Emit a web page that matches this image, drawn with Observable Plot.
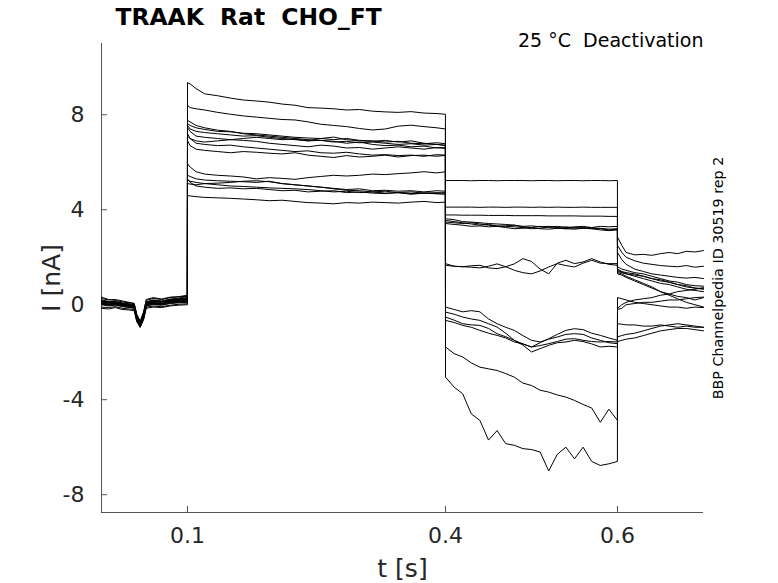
<!DOCTYPE html>
<html>
<head>
<meta charset="utf-8">
<script src="https://cdn.jsdelivr.net/npm/d3@7"></script>
<script src="https://cdn.jsdelivr.net/npm/@observablehq/plot@0.6"></script>
<style>
  html, body { margin: 0; padding: 0; background: #fff; }
  #chart { width: 778px; height: 583px; }
</style>
</head>
<body>
<div id="chart"></div>
<script>
// ---- time bases (s) for the four protocol phases ----
const tBase  = [0, 0.008, 0.016, 0.024, 0.032, 0.038, 0.041, 0.045, 0.049, 0.052, 0.06, 0.07, 0.08, 0.09, 0.0999];
const tPulse = [0.1, 0.103, 0.11, 0.12, 0.135, 0.15, 0.165, 0.18, 0.195, 0.21, 0.225, 0.24, 0.255, 0.27, 0.285, 0.3, 0.315, 0.33, 0.345, 0.36, 0.375, 0.39, 0.3999];
const tTest  = [0.4, 0.41, 0.42, 0.43, 0.44, 0.45, 0.46, 0.47, 0.48, 0.49, 0.5, 0.51, 0.52, 0.53, 0.54, 0.55, 0.56, 0.57, 0.58, 0.59, 0.5999];
const tTail  = [0.6, 0.605, 0.61, 0.62, 0.63, 0.64, 0.65, 0.66, 0.67, 0.68, 0.69, 0.7];

// ---- current (nA) per sweep, phase by phase ----
const baseline = [
  [0.10, 0.05, 0.08, 0.02, -0.05, -0.08, -0.55, -0.85, -0.45, 0.05, 0.10, 0.06, 0.15, 0.18, 0.22],
  [0.20, 0.14, 0.10, 0.06, 0.02, -0.02, -0.45, -0.75, -0.35, 0.12, 0.20, 0.16, 0.24, 0.28, 0.35],
  [0.00, -0.05, -0.02, -0.08, -0.12, -0.15, -0.65, -0.95, -0.55, -0.05, 0.00, -0.02, 0.05, 0.08, 0.10],
  [0.15, 0.10, 0.12, 0.05, 0.00, -0.05, -0.50, -0.80, -0.40, 0.08, 0.15, 0.12, 0.18, 0.22, 0.28],
  [0.05, 0.00, 0.03, -0.03, -0.08, -0.10, -0.60, -0.90, -0.50, 0.00, 0.05, 0.02, 0.10, 0.12, 0.15],
  [0.32, 0.22, 0.18, 0.12, 0.08, 0.04, -0.40, -0.70, -0.30, 0.22, 0.30, 0.24, 0.32, 0.34, 0.40],
  [-0.15, -0.18, -0.12, -0.20, -0.22, -0.25, -0.72, -0.94, -0.62, -0.15, -0.10, -0.12, -0.05, -0.02, 0.00],
  [0.12, 0.08, 0.05, 0.02, -0.02, -0.06, -0.52, -0.82, -0.42, 0.06, 0.12, 0.10, 0.16, 0.20, 0.24],
  [0.08, 0.02, 0.06, 0.00, -0.04, -0.09, -0.58, -0.88, -0.48, 0.02, 0.08, 0.04, 0.12, 0.15, 0.18],
  [0.18, 0.12, 0.14, 0.08, 0.04, 0.00, -0.48, -0.78, -0.38, 0.10, 0.18, 0.14, 0.22, 0.25, 0.30],
  [0.02, -0.02, 0.00, -0.05, -0.10, -0.12, -0.62, -0.90, -0.52, -0.02, 0.02, 0.00, 0.07, 0.10, 0.12],
  [0.26, 0.20, 0.22, 0.16, 0.10, 0.06, -0.42, -0.72, -0.32, 0.18, 0.26, 0.22, 0.30, 0.33, 0.36],
  [-0.10, -0.12, -0.08, -0.15, -0.18, -0.20, -0.68, -0.95, -0.60, -0.10, -0.06, -0.08, -0.02, 0.02, 0.04],
  [0.14, 0.10, 0.07, 0.04, 0.00, -0.04, -0.50, -0.80, -0.40, 0.07, 0.14, 0.12, 0.20, 0.22, 0.26],
  [0.06, 0.00, 0.04, -0.02, -0.06, -0.10, -0.56, -0.86, -0.46, 0.03, 0.06, 0.04, 0.12, 0.14, 0.20]
];
const pulse = [
  [9.35, 9.3, 9.1, 8.88, 8.8, 8.7, 8.62, 8.58, 8.53, 8.45, 8.4, 8.3, 8.28, 8.25, 8.2, 8.22, 8.15, 8.12, 8.1, 8.13, 8.07, 8.05, 8.02],
  [8.4, 8.3, 8.25, 8.2, 8.1, 8.02, 7.95, 7.9, 7.85, 7.8, 7.78, 7.7, 7.6, 7.55, 7.5, 7.42, 7.36, 7.4, 7.52, 7.56, 7.5, 7.45, 7.4],
  [7.76, 7.7, 7.55, 7.45, 7.35, 7.3, 7.2, 7.15, 7.1, 7.05, 7.0, 6.95, 6.92, 6.88, 6.8, 6.85, 6.75, 6.7, 6.72, 6.65, 6.68, 6.6, 6.62],
  [7.62, 7.55, 7.45, 7.38, 7.3, 7.28, 7.22, 7.2, 7.15, 7.1, 7.05, 7.02, 7.0, 6.95, 7.0, 6.92, 6.9, 6.85, 6.88, 6.8, 6.78, 6.82, 6.78],
  [7.45, 7.3, 7.1, 7.05, 7.0, 6.95, 7.0, 7.05, 7.0, 6.95, 6.98, 6.9, 7.0, 7.06, 6.95, 6.9, 6.88, 6.92, 6.85, 6.9, 6.8, 6.75, 6.72],
  [7.2, 7.0, 6.9, 6.85, 6.9, 6.95, 6.92, 6.88, 6.8, 6.75, 6.7, 6.65, 6.72, 6.68, 6.6, 6.62, 6.55, 6.6, 6.65, 6.6, 6.55, 6.62, 6.58],
  [6.92, 6.7, 6.55, 6.5, 6.45, 6.4, 6.45, 6.42, 6.38, 6.35, 6.4, 6.3, 6.25, 6.2, 6.28, 6.22, 6.25, 6.3, 6.22, 6.28, 6.3, 6.25, 6.29],
  [7.1, 7.0, 6.8, 6.75, 6.7, 6.72, 6.65, 6.6, 6.55, 6.5, 6.45, 6.48, 6.4, 6.38, 6.42, 6.35, 6.3, 6.32, 6.28, 6.3, 6.25, 6.32, 6.3],
  [5.93, 5.8, 5.6, 5.5, 5.45, 5.42, 5.38, 5.3, 5.35, 5.32, 5.28, 5.35, 5.4, 5.45, 5.42, 5.45, 5.5, 5.48, 5.52, 5.55, 5.6, 5.55, 5.6],
  [5.45, 5.4, 5.3, 5.25, 5.22, 5.2, 5.18, 5.15, 5.2, 5.1, 5.05, 5.0, 4.95, 4.9, 4.85, 4.88, 4.8, 4.82, 4.78, 4.8, 4.75, 4.8, 4.78],
  [5.25, 5.2, 5.15, 5.1, 5.05, 5.0, 4.98, 4.95, 4.92, 4.9, 4.88, 4.85, 4.8, 4.75, 4.78, 4.72, 4.75, 4.7, 4.72, 4.68, 4.7, 4.72, 4.7],
  [5.1, 5.08, 5.05, 5.1, 5.12, 5.15, 5.2, 5.22, 5.18, 5.1, 5.05, 5.0, 4.95, 4.88, 4.82, 4.8, 4.75, 4.78, 4.72, 4.75, 4.7, 4.68, 4.72],
  [4.6, 4.58, 4.55, 4.52, 4.5, 4.48, 4.45, 4.42, 4.38, 4.4, 4.35, 4.3, 4.28, 4.25, 4.3, 4.28, 4.32, 4.3, 4.28, 4.32, 4.35, 4.3, 4.32],
  [7.55, 7.4, 7.3, 7.25, 7.2, 7.15, 7.1, 7.12, 7.05, 7.0, 6.95, 6.9, 6.92, 6.85, 6.88, 6.82, 6.85, 6.8, 6.75, 6.78, 6.72, 6.75, 6.7],
  [5.3, 5.15, 5.0, 4.95, 4.9, 4.92, 4.88, 4.9, 4.85, 4.8, 4.82, 4.75, 4.78, 4.8, 4.72, 4.75, 4.7, 4.68, 4.72, 4.65, 4.7, 4.67, 4.65]
];
const test = [
  [5.23, 5.23, 5.23, 5.22, 5.23, 5.23, 5.22, 5.23, 5.23, 5.23, 5.22, 5.23, 5.23, 5.22, 5.23, 5.23, 5.22, 5.23, 5.23, 5.22, 5.23],
  [4.11, 4.11, 4.11, 4.11, 4.1, 4.11, 4.11, 4.1, 4.11, 4.11, 4.1, 4.11, 4.1, 4.11, 4.1, 4.1, 4.11, 4.1, 4.1, 4.1, 4.1],
  [3.78, 3.78, 3.77, 3.77, 3.77, 3.76, 3.76, 3.76, 3.75, 3.75, 3.75, 3.75, 3.74, 3.74, 3.74, 3.74, 3.73, 3.73, 3.73, 3.72, 3.72],
  [3.62, 3.58, 3.5, 3.48, 3.45, 3.42, 3.4, 3.38, 3.35, 3.3, 3.32, 3.28, 3.3, 3.25, 3.28, 3.22, 3.25, 3.2, 3.22, 3.18, 3.2],
  [3.55, 3.5, 3.45, 3.4, 3.35, 3.38, 3.32, 3.3, 3.28, 3.25, 3.2, 3.22, 3.28, 3.3, 3.25, 3.28, 3.3, 3.25, 3.3, 3.28, 3.3],
  [3.48, 3.45, 3.42, 3.45, 3.4, 3.35, 3.3, 3.32, 3.35, 3.28, 3.25, 3.3, 3.25, 3.22, 3.2, 3.25, 3.22, 3.25, 3.2, 3.15, 3.18],
  [3.42, 3.38, 3.35, 3.3, 3.32, 3.28, 3.3, 3.25, 3.2, 3.22, 3.25, 3.2, 3.18, 3.22, 3.2, 3.18, 3.22, 3.2, 3.15, 3.12, 3.15],
  [1.73, 1.62, 1.6, 1.64, 1.66, 1.55, 1.52, 1.6, 1.72, 1.94, 1.82, 1.5, 1.3, 1.75, 1.87, 1.73, 1.8, 1.94, 1.8, 1.7, 1.66],
  [1.66, 1.62, 1.6, 1.58, 1.55, 1.62, 1.72, 1.6, 1.45, 1.35, 1.3, 1.42, 1.59, 1.73, 1.65, 1.59, 1.75, 1.87, 1.75, 1.73, 1.73],
  [-0.1, -0.2, -0.3, -0.25, -0.3, -0.6, -0.8, -0.95, -1.08, -1.3, -1.5, -1.57, -1.45, -1.36, -1.25, -1.22, -1.25, -1.4, -1.5, -1.6, -1.64],
  [-0.31, -0.4, -0.52, -0.6, -0.66, -0.8, -0.94, -1.2, -1.5, -1.65, -1.78, -1.6, -1.43, -1.25, -1.08, -1.01, -1.05, -1.2, -1.29, -1.4, -1.5],
  [-0.52, -0.65, -0.8, -0.85, -0.87, -1.0, -1.22, -1.35, -1.5, -1.7, -1.99, -1.85, -1.71, -1.6, -1.57, -1.5, -1.55, -1.65, -1.78, -1.75, -1.78],
  [-0.66, -0.75, -0.87, -0.95, -1.08, -1.2, -1.29, -1.4, -1.57, -1.65, -1.78, -1.72, -1.64, -1.55, -1.45, -1.43, -1.5, -1.55, -1.57, -1.55, -1.57],
  [-1.78, -2.06, -2.2, -2.45, -2.63, -2.7, -2.77, -2.9, -3.05, -3.3, -3.4, -3.6, -3.68, -3.8, -3.89, -4.03, -4.2, -4.35, -4.95, -4.4, -4.87],
  [-3.05, -3.47, -3.75, -4.6, -4.87, -5.7, -5.3, -5.85, -5.92, -6.06, -6.1, -6.2, -7.0, -6.3, -6.0, -6.49, -6.0, -6.6, -6.77, -6.7, -6.6]
];
const tail = [
  [2.85, 2.5, 2.2, 2.1, 2.12, 2.08, 2.15, 2.2, 2.15, 2.25, 2.22, 2.28],
  [2.5, 2.2, 2.0, 1.85, 1.75, 1.7, 1.65, 1.62, 1.6, 1.65, 1.58, 1.62],
  [2.2, 1.9, 1.7, 1.5, 1.4, 1.3, 1.25, 1.2, 1.15, 1.12, 1.15, 1.1],
  [1.6, 1.5, 1.45, 1.35, 1.3, 1.2, 1.1, 1.0, 0.95, 0.85, 0.8, 0.78],
  [1.5, 1.4, 1.35, 1.3, 1.2, 1.1, 1.05, 0.95, 0.85, 0.75, 0.7, 0.68],
  [1.45, 1.38, 1.3, 1.2, 1.1, 1.0, 0.9, 0.85, 0.75, 0.65, 0.6, 0.55],
  [1.35, 1.3, 1.2, 1.05, 0.9, 0.75, 0.55, 0.4, 0.25, 0.1, 0.0, -0.1],
  [1.4, 1.35, 1.3, 1.25, 1.2, 1.1, 1.0, 0.95, 0.85, 0.8, 0.7, 0.65],
  [1.3, 1.25, 1.15, 1.0, 0.85, 0.7, 0.55, 0.45, 0.35, 0.3, 0.2, 0.3],
  [-0.15, 0.0, 0.1, 0.2, 0.25, 0.3, 0.4, 0.45, 0.55, 0.6, 0.65, 0.72],
  [-0.2, -0.15, 0.0, 0.05, 0.1, 0.1, 0.15, 0.2, 0.2, 0.25, 0.3, 0.32],
  [0.3, 0.25, 0.2, 0.1, 0.05, 0.0, -0.05, -0.1, -0.1, -0.15, -0.1, -0.12],
  [-0.8, -0.82, -0.85, -0.85, -0.9, -0.9, -0.85, -0.9, -0.95, -0.9, -0.95, -0.95],
  [-1.35, -1.3, -1.25, -1.2, -1.1, -1.0, -0.9, -0.85, -0.8, -0.85, -0.9, -0.95],
  [-1.55, -1.5, -1.45, -1.4, -1.3, -1.2, -1.1, -1.05, -1.0, -1.0, -1.05, -1.1]
];

const xTicks = [0.1, 0.4, 0.6];
const yTicks = [-8, -4, 0, 4, 8];
const xDomain = [0, 0.7];
const yDomain = [-8.75, 11];

// flatten sweeps into rows
const rows = [];
baseline.forEach((_, k) => {
  const segs = [[tBase, baseline[k]], [tPulse, pulse[k]], [tTest, test[k]], [tTail, tail[k]]];
  for (const [ts, vs] of segs) ts.forEach((t, i) => rows.push({sweep: k, t, I: vs[i]}));
});

const axisColor = "#262626";
const chart = Plot.plot({
  width: 778,
  height: 583,
  marginLeft: 101,
  marginRight: 75,
  marginTop: 43,
  marginBottom: 71,
  style: {fontFamily: "DejaVu Sans, sans-serif", fontSize: "22px", background: "#fff", color: axisColor},
  x: {domain: xDomain},
  y: {domain: yDomain},
  marks: [
    Plot.ruleX([xDomain[0]], {stroke: "#555", strokeWidth: 1}),
    Plot.ruleY([yDomain[0]], {stroke: "#555", strokeWidth: 1}),
    Plot.axisX({ticks: xTicks, tickSize: -6, tickPadding: 20.5, tickFormat: d => d.toFixed(1), label: null, stroke: "#555", fontSize: 22}),
    Plot.axisY({ticks: yTicks, tickSize: -6, tickPadding: 23, tickFormat: d => String(d), label: null, stroke: "#555", fontSize: 22}),
    Plot.line(rows, {x: "t", y: "I", z: "sweep", stroke: "#000", strokeWidth: 1, curve: "linear"}),
    Plot.text(["TRAAK  Rat  CHO_FT"], {frameAnchor: "top-left", dx: 14, dy: -26, textAnchor: "start", lineAnchor: "middle", fontSize: 23.4, fontWeight: "bold", fill: "#000"}),
    Plot.text(["25 °C  Deactivation"], {frameAnchor: "top-right", dx: 0, dy: -3, textAnchor: "end", lineAnchor: "middle", fontSize: 19, fill: "#000"}),
    Plot.text(["BBP Channelpedia ID 30519 rep 2"], {frameAnchor: "right", dx: 15, rotate: -90, textAnchor: "middle", lineAnchor: "middle", fontSize: 14.3, fill: "#000"}),
    Plot.text(["I [nA]"], {frameAnchor: "left", dx: -50, rotate: -90, textAnchor: "middle", lineAnchor: "middle", fontSize: 25, fill: axisColor}),
    Plot.text(["t [s]"], {frameAnchor: "bottom", dy: 56, textAnchor: "middle", lineAnchor: "middle", fontSize: 25, fill: axisColor})
  ]
});
document.getElementById("chart").appendChild(chart);
</script>
</body>
</html>
